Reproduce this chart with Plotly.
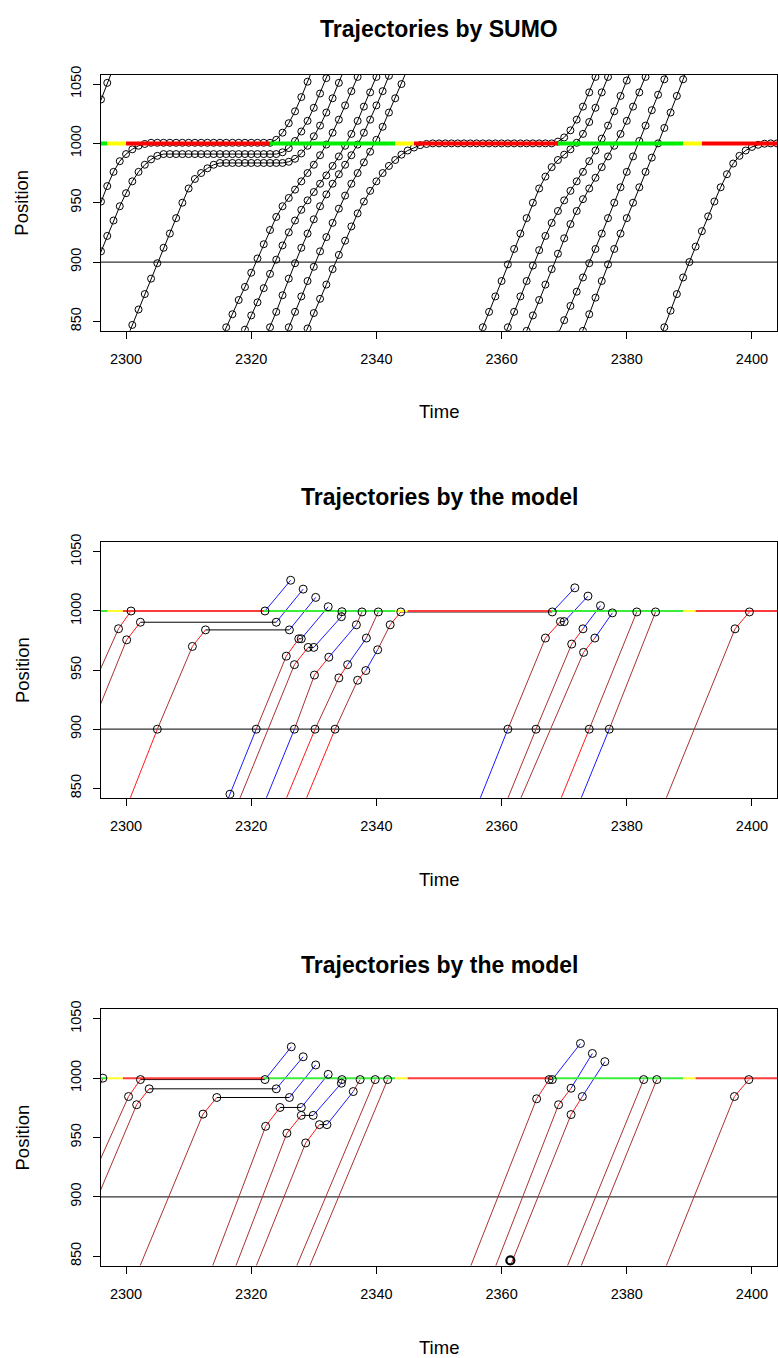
import plotly.graph_objects as go

FIG_W, FIG_H = 778, 1358

x_range = [2296, 2404]
y_range = [842, 1058]
x_tick_vals = [2300, 2320, 2340, 2360, 2380, 2400]
y_tick_vals = [850, 900, 950, 1000, 1050]
detector_pos = 900

panel_titles = ["Trajectories by SUMO", "Trajectories by the model", "Trajectories by the model"]

# signal timing at the stop line: interval bounds and state of each interval
sumo_phase_bounds = [2290, 2297, 2300, 2323, 2343, 2346, 2369, 2389, 2392, 2410]
model_phase_bounds = [2290, 2297, 2299.5, 2322, 2343, 2345, 2368, 2389, 2391, 2410]
phase_states = ["G", "Y", "R", "G", "Y", "R", "G", "Y", "R"]

# SUMO output: first time step of each vehicle and its position every second
sumo_start = [2295, 2295, 2295, 2300, 2315, 2318, 2322, 2325, 2328,
              2356, 2360, 2363, 2369, 2372, 2385]
sumo_pos = [
    [1023, 1037, 1051, 1064],
    [937, 951, 964, 976, 985, 991, 995, 998, 999.5,
     1000.5, 1000.5, 1000.5, 1000.5, 1000.5, 1000.5, 1000.5, 1000.5, 1000.5, 1000.5,
     1000.5, 1000.5, 1000.5, 1000.5, 1000.5, 1000.5, 1000.5, 1000.5, 1000.5, 1000.5,
     1003, 1009, 1017, 1027, 1039, 1052, 1065],
    [896, 909, 922, 935, 947, 958, 968, 976, 982, 986.5, 989.5, 991,
     991, 991, 991, 991, 991, 991, 991, 991, 991, 991, 991, 991, 991, 991, 991, 991, 991, 991,
     992.5, 996, 1002, 1010, 1019, 1030, 1042, 1055, 1068],
    [834, 847, 860, 873, 886, 899, 912, 924, 937, 950, 962, 970, 975, 979, 982,
     983.5, 983.5, 983.5, 983.5, 983.5, 983.5, 983.5, 983.5, 983.5, 983.5, 983.5,
     984.5, 987, 991.5, 998, 1006, 1015, 1026, 1038, 1051, 1064],
    [833, 845, 856, 868, 879, 891, 903, 915, 927, 938, 947, 954, 961, 968, 975, 982,
     990, 999, 1009, 1020, 1032, 1044, 1056, 1068],
    [831, 843, 855, 866, 878, 890, 902, 914, 925, 935, 944, 952, 959, 966, 973, 981,
     989, 998, 1008, 1019, 1031, 1043, 1056, 1069],
    [833, 845, 858, 872, 886, 899, 912, 924, 936, 947, 957, 966, 974, 982, 990, 999,
     1009, 1020, 1032, 1044, 1057, 1070],
    [832, 845, 858, 871, 884, 896, 909, 921, 933, 945, 956, 966, 975, 984, 993, 1003,
     1014, 1026, 1038, 1050, 1063],
    [832, 844, 857, 869, 881, 894, 906, 918, 930, 941, 951, 960, 968, 975, 981, 986,
     990.5, 994, 996.5, 998.5, 999.5,
     1000, 1000, 1000, 1000, 1000, 1000, 1000, 1000, 1000, 1000,
     1000, 1000, 1000, 1000, 1000, 1000, 1000, 1000, 1000, 1000,
     1001.5, 1005, 1011, 1020, 1031, 1043, 1056, 1069],
    [832, 845, 858, 871, 884, 898, 911, 924, 937, 950, 962, 972, 980, 986, 990.5, 995,
     1000.5, 1008, 1018, 1030, 1043, 1056, 1069],
    [832, 845, 858, 871, 884, 897, 910, 922, 933, 943, 952, 960, 968, 976, 985, 994,
     1004, 1015, 1027, 1040, 1053, 1066],
    [829, 842, 855, 868, 881, 894, 907, 920, 932, 943, 953, 962, 971, 980, 989, 998,
     1008, 1019, 1031, 1043, 1056, 1069],
    [839, 851, 863, 875, 887, 899, 911, 924, 937, 950, 963, 976, 989, 1002, 1015, 1028,
     1041, 1054, 1067],
    [829, 842, 856, 870, 884, 898, 911, 924, 937, 950, 963, 976, 988, 1000, 1013, 1026,
     1040, 1054, 1068],
    [832, 845, 859, 873, 887, 900, 913, 926, 938.5, 951, 963, 974, 983, 989.5, 994, 997,
     998.8, 999.7, 1000, 1000, 1000],
]

# model output: trajectory break points and the kind of each piece
# N = cruising, R = slowing, K = waiting, B = accelerating
model1_t = [
    [2295.0, 2298.8, 2300.8, 2322.2, 2326.3],
    [2295.0, 2300.1, 2302.3, 2324.0, 2328.3],
    [2299.5, 2305.0, 2310.6, 2312.7, 2326.1, 2330.3],
    [2315.4, 2316.6, 2320.8, 2325.6, 2327.6, 2328.0, 2332.3],
    [2317.0, 2326.9, 2329.1, 2330.0, 2334.4, 2334.5],
    [2321.2, 2326.9, 2330.1, 2332.4, 2336.8, 2337.7],
    [2324.4, 2330.2, 2334.0, 2335.4, 2338.4, 2340.3],
    [2327.6, 2333.4, 2337.0, 2338.3, 2340.2, 2342.2, 2343.9, 2368.1, 2371.7],
    [2355.4, 2361.0, 2367.0, 2369.4, 2370.0, 2373.8],
    [2359.8, 2365.5, 2371.2, 2373.0, 2375.8],
    [2361.8, 2373.1, 2374.9, 2377.7],
    [2368.3, 2374.0, 2381.6],
    [2371.5, 2377.2, 2384.6],
    [2385.1, 2397.3, 2399.6],
]
model1_x = [
    [940, 985, 1000, 1000, 1026],
    [909, 975.6, 990.5, 990.5, 1018.5],
    [826, 900, 970, 984, 984, 1011.5],
    [829, 845, 900, 961.8, 976.5, 976.5, 1003.6],
    [826, 954.6, 969.2, 969.2, 995.2, 999.4],
    [826, 900, 945.8, 960.9, 988.3, 999.2],
    [826, 900, 943.4, 954.6, 977.1, 999.2],
    [826, 900, 941.4, 949.6, 967.2, 988.3, 999.2, 999.2, 1019.6],
    [826, 900, 977.1, 991, 991, 1012.6],
    [826, 900, 972, 984.9, 1004.5],
    [826, 965, 977.1, 998.4],
    [826, 900, 999.2],
    [826, 900, 999.2],
    [826, 984.9, 999.2],
]
model1_seg = [
    "NRKB", "NRKB", "RNRKB", "BBNRKB", "NRKBN", "BNRBN", "RNRBN", "RNRBNRKB",
    "BNRKB", "NNRB", "NRB", "RN", "BN", "NR",
]

model2_t = [
    [2295.0, 2296.3],
    [2295.0, 2300.4, 2302.3, 2322.2, 2326.4],
    [2295.0, 2301.7, 2303.7, 2324.0, 2328.3],
    [2301.0, 2312.3, 2314.5, 2326.1, 2330.3],
    [2312.7, 2322.3, 2324.6, 2328.0, 2332.3],
    [2316.4, 2325.7, 2328.0, 2329.9, 2334.4, 2334.5],
    [2319.6, 2328.7, 2330.9, 2332.1, 2336.3, 2337.4],
    [2326.0, 2339.8],
    [2328.1, 2341.8],
    [2353.9, 2365.6, 2367.6, 2368.1, 2372.6],
    [2357.9, 2369.1, 2371.1, 2374.5],
    [2360.2, 2371.1, 2372.9, 2376.5],
    [2369.3, 2382.7],
    [2371.5, 2384.8],
    [2385.1, 2397.2, 2399.5],
]
model2_x = [
    [983, 1000],
    [921, 984.5, 998.8, 998.8, 1026.4],
    [894, 977.6, 991, 991, 1018],
    [826, 969.7, 983.7, 983.7, 1011.1],
    [826, 959.4, 975.3, 975.3, 1003.2],
    [826, 953.6, 968.6, 968.6, 995.7, 998.8],
    [826, 945.4, 960.8, 960.8, 988.7, 998.8],
    [826, 998.8],
    [826, 998.8],
    [826, 982.6, 998.8, 998.8, 1029.2],
    [826, 977.6, 991.5, 1020.8],
    [826, 969.3, 984.5, 1013.9],
    [826, 998.8],
    [826, 998.8],
    [826, 984.5, 998.8],
]
model2_seg = [
    "N", "NRKB", "NRKB", "NRKB", "NRKB", "NRKBN", "NRKBN", "N", "N",
    "NRKB", "NRB", "NRB", "N", "N", "NR",
]
# vehicle entering at the upstream boundary
model2_entry_t = [2361.4]
model2_entry_x = [846.4]

SUMO_PHASE_COLOURS = {"G": "#00ee00", "Y": "#ffff00", "R": "#ff0000"}
MODEL_PHASE_COLOURS = {"G": "#3cee3c", "Y": "#ffff30", "R": "#ff3c3c"}
PIECE_COLOURS = {"N": "#a83232", "R": "#ff1a1a", "K": "#000000", "B": "#1a1aff"}
FONT = "Liberation Sans, Arial, sans-serif"

# plot boxes in pixels (top, bottom) and shared horizontal extent
boxes = [(66, 324), (537, 794), (1007, 1265)]
box_left, box_right = 101, 777
title_y = [20, 491, 962]
xlabel_y = [405, 876, 1347]

fig = go.Figure()


def axis_ids(i):
    return ("x" if i == 0 else f"x{i + 1}", "y" if i == 0 else f"y{i + 1}")


def add_signal(i, bounds, colours, width):
    xa, ya = axis_ids(i)
    for k, state in enumerate(phase_states):
        fig.add_trace(go.Scatter(
            x=[bounds[k], bounds[k + 1]], y=[1000, 1000], mode="lines",
            line=dict(color=colours[state], width=width),
            xaxis=xa, yaxis=ya, hoverinfo="skip", showlegend=False))


def add_detector(i):
    xa, ya = axis_ids(i)
    fig.add_trace(go.Scatter(
        x=[2280, 2420], y=[detector_pos, detector_pos], mode="lines",
        line=dict(color="#333333", width=1.3),
        xaxis=xa, yaxis=ya, hoverinfo="skip", showlegend=False))


# ---- panel 1: SUMO trajectories, one circle per time step
xs, ys = [], []
for t0, pos in zip(sumo_start, sumo_pos):
    xs += [t0 + k for k in range(len(pos))] + [None]
    ys += list(pos) + [None]
add_detector(0)
fig.add_trace(go.Scatter(
    x=xs, y=ys, mode="lines+markers",
    line=dict(color="black", width=1),
    marker=dict(symbol="circle-open", size=7, color="black", line=dict(width=1)),
    xaxis="x", yaxis="y", hoverinfo="skip", showlegend=False))
add_signal(0, sumo_phase_bounds, SUMO_PHASE_COLOURS, 4)


# ---- panels 2 and 3: model trajectories
def add_model(i, t_list, x_list, seg_list):
    xa, ya = axis_ids(i)
    add_detector(i)
    for code, colour in PIECE_COLOURS.items():
        px, py = [], []
        for ts, xv, segs in zip(t_list, x_list, seg_list):
            for k, s in enumerate(segs):
                if s == code:
                    px += [ts[k], ts[k + 1], None]
                    py += [xv[k], xv[k + 1], None]
        fig.add_trace(go.Scatter(
            x=px, y=py, mode="lines", line=dict(color=colour, width=1),
            xaxis=xa, yaxis=ya, hoverinfo="skip", showlegend=False))
    add_signal(i, model_phase_bounds, MODEL_PHASE_COLOURS, 2)
    mx, my = [], []
    for ts, xv in zip(t_list, x_list):
        mx += ts
        my += xv
    fig.add_trace(go.Scatter(
        x=mx, y=my, mode="markers",
        marker=dict(symbol="circle-open", size=8, color="black", line=dict(width=1)),
        xaxis=xa, yaxis=ya, hoverinfo="skip", showlegend=False))


add_model(1, model1_t, model1_x, model1_seg)
add_model(2, model2_t, model2_x, model2_seg)
fig.add_trace(go.Scatter(
    x=model2_entry_t, y=model2_entry_x, mode="markers",
    marker=dict(symbol="circle-open", size=8, color="black", line=dict(width=2.2)),
    xaxis="x3", yaxis="y3", hoverinfo="skip", showlegend=False))

axis_font = dict(family=FONT, size=14.5, color="black")
common = dict(showline=True, mirror=True, linecolor="black", linewidth=1,
              ticks="outside", ticklen=7, tickwidth=1, tickcolor="black",
              showgrid=False, zeroline=False, tickfont=axis_font)

layout = dict(width=FIG_W, height=FIG_H, margin=dict(l=0, r=0, t=0, b=0),
              paper_bgcolor="white", plot_bgcolor="white", showlegend=False)
annotations = []
for i, (top, bottom) in enumerate(boxes):
    xa, ya = axis_ids(i)
    xkey = "xaxis" if i == 0 else f"xaxis{i + 1}"
    ykey = "yaxis" if i == 0 else f"yaxis{i + 1}"
    layout[xkey] = dict(common, domain=[box_left / FIG_W, box_right / FIG_W],
                        range=x_range, tickvals=x_tick_vals, anchor=ya,
                        ticklabelstandoff=8)
    layout[ykey] = dict(common, domain=[1 - bottom / FIG_H, 1 - top / FIG_H],
                        range=y_range, tickvals=y_tick_vals, anchor=xa,
                        tickangle=-90, ticklabelstandoff=6)
    cx = (box_left + box_right) / 2 / FIG_W
    annotations.append(dict(text=f"<b>{panel_titles[i]}</b>", x=cx, y=1 - title_y[i] / FIG_H,
                            xref="paper", yref="paper", showarrow=False,
                            font=dict(family=FONT, size=23, color="black"),
                            xanchor="center", yanchor="middle"))
    annotations.append(dict(text="Time", x=cx, y=1 - xlabel_y[i] / FIG_H,
                            xref="paper", yref="paper", showarrow=False,
                            font=dict(family=FONT, size=18.5, color="black"),
                            xanchor="center", yanchor="middle"))
    annotations.append(dict(text="Position", x=22 / FIG_W, y=1 - (top + bottom) / 2 / FIG_H,
                            xref="paper", yref="paper", showarrow=False, textangle=-90,
                            font=dict(family=FONT, size=18.5, color="black"),
                            xanchor="center", yanchor="middle"))
layout["annotations"] = annotations
fig.update_layout(**layout)

fig.write_html("out.html")
